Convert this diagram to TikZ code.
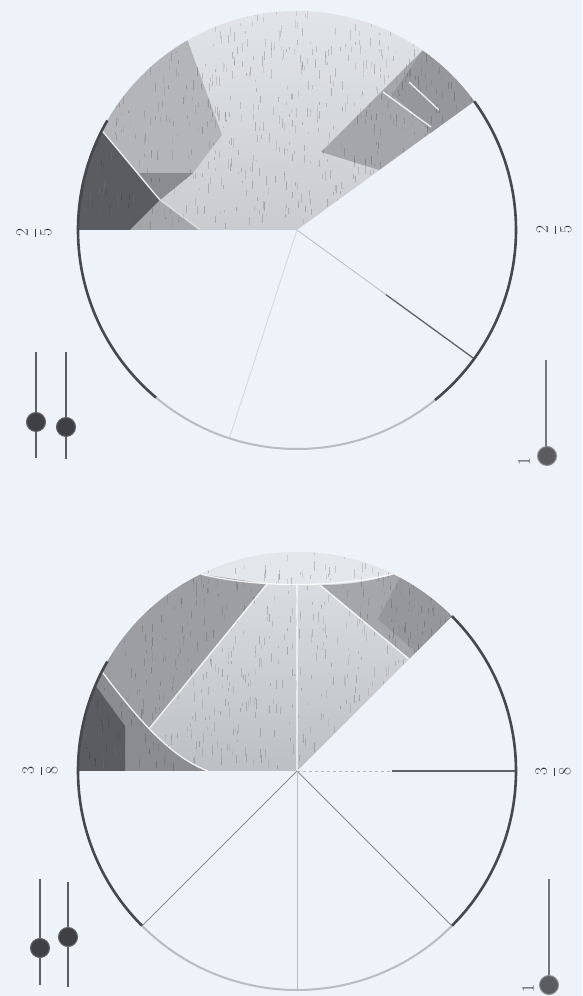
\documentclass[tikz,border=0pt]{standalone}
\definecolor{bg}{HTML}{EEF2F9}
\definecolor{rimc}{HTML}{46484C}
\definecolor{rimlt}{HTML}{B9BDC3}
\definecolor{aTop}{HTML}{E4E7EC}
\definecolor{aMid}{HTML}{D1D4D8}
\definecolor{aBot}{HTML}{C9CBCF}
\definecolor{bTop}{HTML}{E0E3E8}
\definecolor{bMid}{HTML}{C4C7CB}
\definecolor{bBot}{HTML}{BCBFC3}
\definecolor{dkc}{HTML}{5A5C60}
\definecolor{mdc}{HTML}{8A8C90}
\definecolor{mdl}{HTML}{A4A6AA}
\definecolor{ltc}{HTML}{B3B5B9}
\definecolor{capc}{HTML}{E3E6EB}
\definecolor{slc}{HTML}{5C5E62}
\definecolor{knobc}{HTML}{3E4043}
\definecolor{knobr}{HTML}{606266}
\definecolor{knobl}{HTML}{5A5C60}
\definecolor{labc}{HTML}{34363A}
\tikzset{
  rimline/.style={draw=rimc, line width=2.6pt},
  rimfaint/.style={draw=rimlt, line width=2pt},
  ghost/.style={draw=white, line width=1.3pt, opacity=0.85},
  spokedark/.style={draw=rimc!85, line width=1.3pt},
  spokemid/.style={draw=mdc, line width=0.9pt},
  spokefaint/.style={draw=rimlt, line width=0.8pt},
  sliderline/.style={draw=slc, line width=1.1pt},
  speck/.style={line width=0.6pt, opacity=0.22},
  knob/.style={circle, fill=knobc, draw=knobr, line width=1pt, minimum size=19pt, inner sep=0pt},
  knobone/.style={circle, fill=knobl, draw=knobr!70, line width=1pt, minimum size=19pt, inner sep=0pt},
  lab/.style={rotate=90, text=labc, font=\fontsize{17.28}{21}\selectfont, inner sep=0pt},
}
\begin{document}
\begin{tikzpicture}[x=1pt,y=1pt]
\useasboundingbox (0,0) rectangle (582,996);
\fill[bg] (0,0) rectangle (582,996);
\pgfmathsetseed{4711}

% ================= top circle : 2/5 =================
\begin{scope}[shift={(297,766)}]
  \coordinate (ca) at (0,0);
  \shade[top color=aTop, middle color=aMid, bottom color=aBot]
    (0,0) -- (36:219) arc[start angle=36,end angle=180,radius=219] -- cycle;
  % upper left medium band
  \fill[ltc] (153:219) arc[start angle=153,end angle=120,radius=219]
    -- (-75,95) -- (-104,57) -- (-137,30)
    .. controls (-150,45) and (-172,72) .. cycle;
  % medium dark triangle
  \fill[mdc] (-158,57) -- (-104,57) -- (-137,30) -- cycle;
  % light medium triangle
  \fill[mdl] (-167,0) -- (-137,30) -- (-97,0) -- cycle;
  % darkest wedge
  \fill[dkc] (180:219) arc[start angle=180,end angle=153,radius=219]
    .. controls (-172,72) and (-150,45) .. (-137,30) -- (-167,0) -- cycle;
  % right band along the boundary
  \fill[mdl] (82,60) -- (36:219) arc[start angle=36,end angle=55,radius=219] -- (24,78) -- cycle;
  \fill[mdc!90] (36:165) -- (36:219) arc[start angle=36,end angle=55,radius=219]
    -- (55:165) arc[start angle=55,end angle=36,radius=165] -- cycle;
  % scan texture
  \begin{scope}
    \clip (0,0) -- (36:219) arc[start angle=36,end angle=180,radius=219] -- cycle;
    \foreach \i in {1,...,700} {
      \pgfmathsetmacro{\nx}{-219+400*rnd}
      \pgfmathsetmacro{\ny}{219*rnd}
      \pgfmathsetmacro{\nl}{2+8*rnd}
      \pgfmathsetmacro{\nc}{45+45*rnd}
      \draw[speck, draw=black!\nc] (\nx,\ny) -- (\nx,\ny+\nl);
    }
  \end{scope}
  % ghost lines
  \draw[ghost] (153:219) .. controls (-172,72) and (-150,45) .. (-137,30);
  \draw[ghost, opacity=0.5] (-137,30) -- (-97,0);
  \draw[ghost] (86,138) -- (134,103);
  \draw[ghost] (112,148) -- (142,120);
  % spokes
  \coordinate (a1) at (-36:219);
  \coordinate (a1m) at (-36:110);
  \coordinate (a2) at (-108:219);
  \draw[spokefaint] (ca) -- (a1m);
  \draw[spokedark] (a1m) -- (a1);
  \draw[spokefaint, draw=rimlt!60] (ca) -- (a2);
  % outline
  \draw[rimline] (-51:219) arc[start angle=-51,end angle=36,radius=219];
  \draw[rimline] (150:219) arc[start angle=150,end angle=230,radius=219];
  \draw[rimfaint] (230:219) arc[start angle=230,end angle=309,radius=219];
\end{scope}

% ================= bottom circle : 3/8 =================
\begin{scope}[shift={(297,225)}]
  \coordinate (cb) at (0,0);
  \shade[top color=bTop, middle color=bMid, bottom color=bBot]
    (0,0) -- (45:219) arc[start angle=45,end angle=180,radius=219] -- cycle;
  % top cap
  \fill[capc] (116:219) .. controls (-40,183) and (40,183) .. (64:219)
    arc[start angle=64,end angle=116,radius=219] -- cycle;
  % left medium dark
  \fill[mdc] (180:219) arc[start angle=180,end angle=153,radius=219]
    .. controls (-165,60) and (-130,15) .. (-89,0) -- cycle;
  % darkest
  \fill[dkc] (180:219) arc[start angle=180,end angle=157,radius=219]
    -- (-172,45) -- (-172,0) -- cycle;
  % upper left band
  \fill[mdl!95!black] (153:219) arc[start angle=153,end angle=116,radius=219]
    -- (-30,187) -- (-148,42) .. controls (-168,64) and (-182,82) .. cycle;
  % right band
  \fill[mdl] (112,112) -- (45:219) arc[start angle=45,end angle=64,radius=219]
    .. controls (70,188) and (45,186) .. (23,186) -- cycle;
  \fill[mdc!90] (45:168) -- (45:219) arc[start angle=45,end angle=62,radius=219]
    -- (62:172) -- cycle;
  % scan texture
  \begin{scope}
    \clip (0,0) -- (45:219) arc[start angle=45,end angle=180,radius=219] -- cycle;
    \foreach \i in {1,...,700} {
      \pgfmathsetmacro{\nx}{-219+380*rnd}
      \pgfmathsetmacro{\ny}{219*rnd}
      \pgfmathsetmacro{\nl}{2+8*rnd}
      \pgfmathsetmacro{\nc}{45+45*rnd}
      \draw[speck, draw=black!\nc] (\nx,\ny) -- (\nx,\ny+\nl);
    }
  \end{scope}
  % ghost lines
  \draw[ghost] (116:219) .. controls (-40,183) and (40,183) .. (64:219);
  \draw[ghost] (153:219) .. controls (-165,60) and (-130,15) .. (-89,0);
  \draw[ghost] (-148,42) -- (-30,187);
  \draw[ghost, opacity=0.6] (0,0) -- (0,186);
  \draw[ghost] (23,186) -- (112,112);
  % spokes
  \coordinate (b0) at (0:219);
  \coordinate (b0m) at (0:95);
  \coordinate (b1) at (-45:219);
  \coordinate (b2) at (-90:219);
  \coordinate (b3) at (-135:219);
  \draw[spokefaint, dashed] (cb) -- (b0m);
  \draw[spokedark, line width=1.6pt] (b0m) -- (b0);
  \draw[spokemid] (cb) -- (b1);
  \draw[spokefaint] (cb) -- (b2);
  \draw[spokemid] (cb) -- (b3);
  % outline
  \draw[rimline] (-45:219) arc[start angle=-45,end angle=45,radius=219];
  \draw[rimline] (150:219) arc[start angle=150,end angle=225,radius=219];
  \draw[rimfaint] (225:219) arc[start angle=225,end angle=315,radius=219];
\end{scope}

% ================= labels =================
\node[lab] (fa1) at (34,763) {$\displaystyle\frac{2}{5}$};
\node[lab] (fa2) at (554,766) {$\displaystyle\frac{2}{5}$};
\node[lab] (fb1) at (40,225) {$\displaystyle\frac{3}{8}$};
\node[lab] (fb2) at (553,224) {$\displaystyle\frac{3}{8}$};

% ================= sliders, top =================
\coordinate (sa1t) at (36,644); \coordinate (sa1b) at (36,538);
\coordinate (sa2t) at (66,644); \coordinate (sa2b) at (66,537);
\coordinate (sa3t) at (546,636); \coordinate (sa3b) at (546,540);
\draw[sliderline] (sa1t) -- (sa1b);
\draw[sliderline] (sa2t) -- (sa2b);
\draw[sliderline, draw=slc!85] (sa3t) -- (sa3b);
\node[knob] (ka1) at (36,574) {};
\node[knob] (ka2) at (66,569) {};
\node[knobone] (ka3) at (547,540) {};
\node[lab] (oa) at (524,534) {1};

% ================= sliders, bottom =================
\coordinate (sb1t) at (40,117); \coordinate (sb1b) at (40,11);
\coordinate (sb2t) at (68,114); \coordinate (sb2b) at (68,9);
\coordinate (sb3t) at (549,117); \coordinate (sb3b) at (549,11);
\draw[sliderline] (sb1t) -- (sb1b);
\draw[sliderline] (sb2t) -- (sb2b);
\draw[sliderline, draw=slc!85] (sb3t) -- (sb3b);
\node[knob] (kb1) at (40,48) {};
\node[knob] (kb2) at (68,59) {};
\node[knobone] (kb3) at (549,11) {};
\node[lab] (ob) at (528,7) {1};
\end{tikzpicture}
\end{document}
